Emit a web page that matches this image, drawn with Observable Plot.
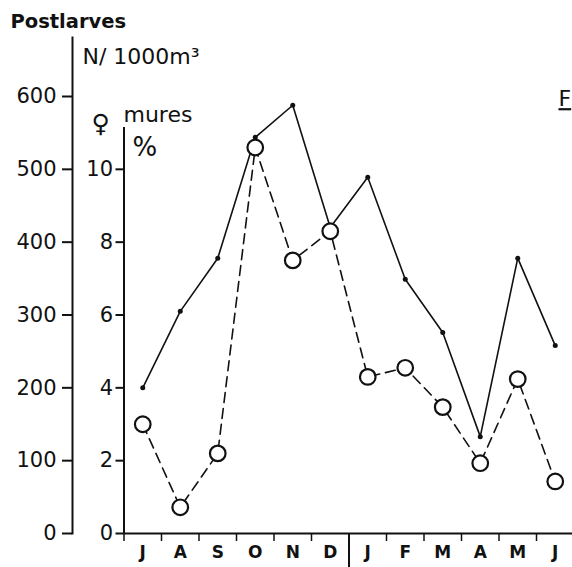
<!DOCTYPE html>
<html><head><meta charset="utf-8">
<script src="https://cdn.jsdelivr.net/npm/d3@7"></script>
<script src="https://cdn.jsdelivr.net/npm/@observablehq/plot@0.6"></script>
<style>body{margin:0;background:#fff}</style>
</head><body><div id="chart"></div>
<script>
const months = ["J","A","S","O","N","D","J","F","M","A","M","J"];
const postlarves = [200, 305, 378, 544, 588, 420, 489, 349, 276, 133, 378, 258];
const maturePct = [3.0, 0.72, 2.2, 10.6, 7.5, 8.3, 4.3, 4.55, 3.47, 1.93, 4.24, 1.43];
const postTicks = [0, 100, 200, 300, 400, 500, 600];
const pctTicks = [0, 2, 4, 6, 8, 10];
const pctToPost = 50; // 10 % sits at 500 on the postlarves scale
const pctAxisTop = 11.15;

const idx = months.map((m, i) => i);
const solid = idx.map(i => ({i, v: postlarves[i]}));
const dashed = idx.map(i => ({i, v: maturePct[i] * pctToPost}));
const bounds = d3.range(-0.5, months.length, 1);
const font = "DejaVu Sans, sans-serif";

const chart = Plot.plot({
  width: 572, height: 567,
  marginLeft: 72, marginTop: 37, marginBottom: 34, marginRight: 0,
  style: {fontFamily: font, color: "#111", background: "#fff"},
  x: {domain: [-0.5, 11.5], range: [123.5, 573.5]},
  y: {domain: [0, 600], range: [533, 96]},
  marks: [
    // outer axis line
    Plot.frame({anchor: "left", stroke: "#111", strokeWidth: 2}),
    Plot.axisY({anchor: "left", ticks: postTicks, tickSize: 10, tickPadding: 6,
      fontSize: 21, label: null, stroke: "#111", strokeWidth: 2}),
    // inner % axis
    Plot.ruleX([-0.5], {y1: 0, y2: pctAxisTop * pctToPost, stroke: "#111", strokeWidth: 2}),
    Plot.axisY({anchor: "left", ticks: pctTicks.map(p => p * pctToPost),
      tickFormat: d => d / pctToPost, dx: 51.5, tickSize: 8, tickPadding: 3,
      fontSize: 21, label: null, stroke: "#111", strokeWidth: 2}),
    // x axis
    Plot.ruleY([0], {x1: -0.5, x2: 11.5, stroke: "#111", strokeWidth: 2}),
    Plot.axisX({anchor: "bottom", ticks: bounds, tickFormat: () => "", tickSize: 8,
      stroke: "#111", strokeWidth: 1.5, label: null}),
    Plot.axisX({anchor: "bottom", ticks: [5.5], tickFormat: () => "", tickSize: 34,
      stroke: "#111", strokeWidth: 2, label: null}),
    Plot.axisX({anchor: "bottom", ticks: idx, tickFormat: i => months[i], tickSize: 0,
      tickPadding: 12, fontSize: 17, fontWeight: "bold", label: null}),
    // series
    Plot.line(solid, {x: "i", y: "v", stroke: "#111", strokeWidth: 1.6}),
    Plot.dot(solid, {x: "i", y: "v", r: 2.5, fill: "#111"}),
    Plot.line(dashed, {x: "i", y: "v", stroke: "#111", strokeWidth: 1.6, strokeDasharray: "10,6"}),
    Plot.dot(dashed, {x: "i", y: "v", r: 7.8, fill: "#fff", stroke: "#111", strokeWidth: 2.2}),
    // labels
    Plot.text(["Postlarves"], {frameAnchor: "top-left", dx: -62, dy: -23, textAnchor: "start",
      fontSize: 19.5, fontWeight: "bold"}),
    Plot.text(["N/ 1000m³"], {frameAnchor: "top-left", dx: 10, dy: 11, textAnchor: "start",
      fontSize: 22}),
    Plot.text(["♀"], {frameAnchor: "top-left", dx: 19, dy: 77, textAnchor: "start",
      fontSize: 25, fontWeight: "bold"}),
    Plot.text(["mures"], {frameAnchor: "top-left", dx: 51, dy: 69, textAnchor: "start",
      fontSize: 22}),
    Plot.text(["%"], {frameAnchor: "top-left", dx: 60, dy: 100, textAnchor: "start",
      fontSize: 26}),
    Plot.text(["F"], {frameAnchor: "top-left", dx: 486, dy: 53, textAnchor: "start",
      fontSize: 22, className: "figlabel"})
  ]
});
document.getElementById("chart").append(chart);
d3.select(chart).selectAll(".figlabel text").style("text-decoration", "underline");
</script>
</body></html>
